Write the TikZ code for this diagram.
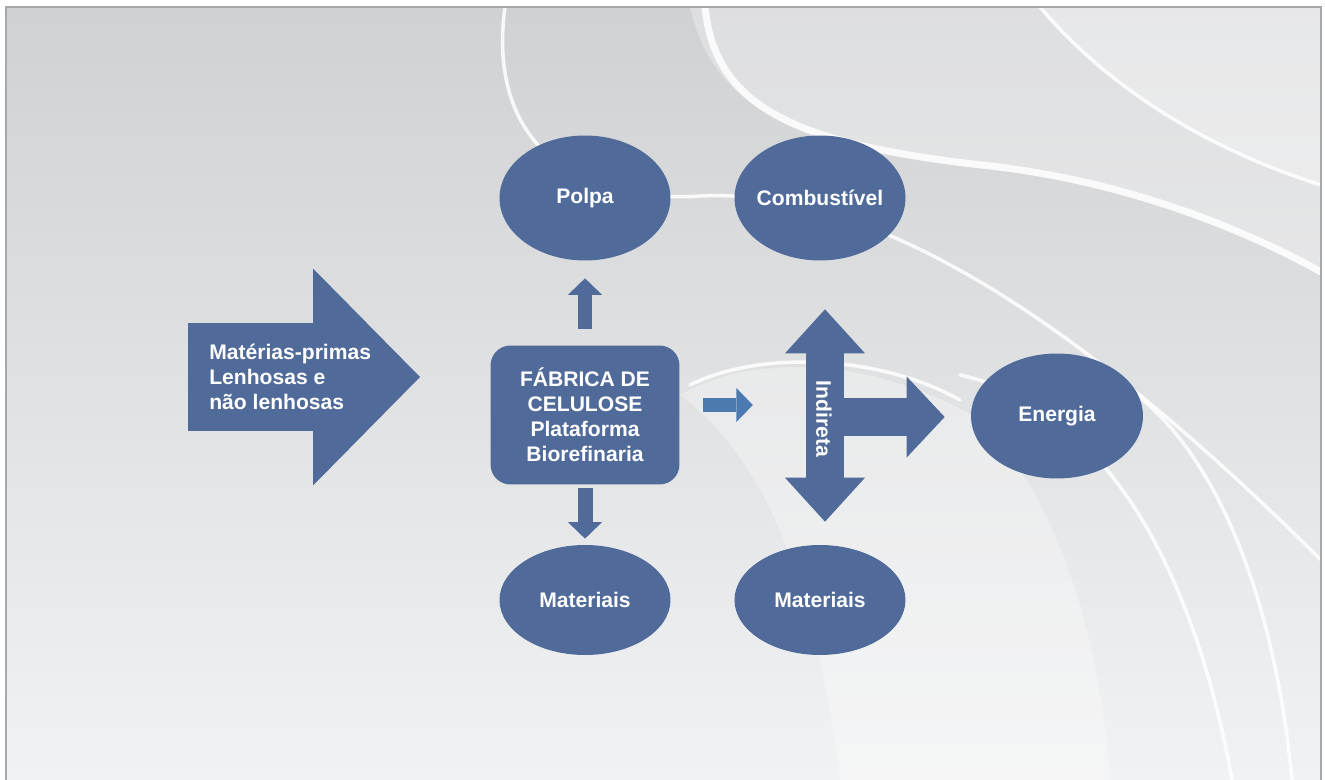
\documentclass[tikz,border=0pt]{standalone}
\usepackage{fontspec}
\setmainfont{Liberation Sans}
\usetikzlibrary{arrows.meta,calc,positioning,shapes.geometric}

\definecolor{boxblue}{HTML}{506A9A}
\definecolor{stepblue}{HTML}{4A7AAF}
\definecolor{bgdark}{HTML}{D0D1D3}
\definecolor{bglight}{HTML}{F1F2F3}
\definecolor{framegray}{HTML}{A8A8A8}

\begin{document}
\begin{tikzpicture}[
    x=0.02cm, y=-0.02cm,
    font=\fontsize{12}{14.2}\selectfont\bfseries,
    blob/.style={ellipse, fill=boxblue, text=white, minimum width=3.42cm,
        minimum height=2.5cm, inner sep=-4pt},
    hub/.style={rectangle, rounded corners=0.4cm, fill=boxblue, text=white,
        minimum width=3.78cm, minimum height=2.78cm, align=center, inner sep=2pt},
    lbl/.style={text=white, inner sep=0pt},
    wtip/.tip={Triangle[width=1.6cm, length=0.88cm, line width=0pt]},
    htip/.tip={Triangle[width=1.62cm, length=0.76cm, line width=0pt]},
    fat/.style={boxblue, line width=0.28cm,
        arrows={-Triangle[width=0.68cm, length=0.33cm, line width=0pt]}},
    wide/.style={boxblue, line width=0.76cm},
    band/.style={white, line width=2pt, line cap=round, opacity=0.85},
    glow/.style={white, opacity=0.3},
]

% ---------- frame and background ----------
\useasboundingbox (0,0) rectangle (1325,780);
\fill[white] (0,0) rectangle (1325,780);
\begin{scope}
  \clip (6,7) rectangle (1321,780);
  \shade[top color=bgdark, bottom color=bglight] (6,7) rectangle (1321,780);
  \fill[glow] (690,7) .. controls (715,120) and (820,150) .. (990,168)
      .. controls (1140,185) and (1260,240) .. (1321,275) -- (1321,7) -- cycle;
  \fill[glow] (1040,7) .. controls (1110,90) and (1210,150) .. (1321,185) -- (1321,7) -- cycle;
  \fill[glow] (680,395) .. controls (760,350) and (880,360) .. (980,420)
      .. controls (1060,500) and (1100,640) .. (1110,780) -- (840,780)
      .. controls (820,620) and (780,470) .. cycle;
  \draw[band] (505,7) .. controls (488,130) and (560,205) .. (700,196)
      .. controls (860,188) and (1060,300) .. (1321,560);
  \draw[band, line width=4pt] (705,7) .. controls (715,110) and (800,145) .. (990,166)
      .. controls (1140,183) and (1260,238) .. (1321,272);
  \draw[band] (1040,7) .. controls (1110,90) and (1210,150) .. (1321,185);
  \draw[band] (690,385) .. controls (760,350) and (880,355) .. (960,400);
  \draw[band] (960,375) .. controls (1120,410) and (1200,600) .. (1232,780);
  \draw[band] (1060,355) .. controls (1210,395) and (1275,600) .. (1292,780);
\end{scope}
\draw[framegray, line width=1.2pt] (6,781) -- (6,7) -- (1321,7) -- (1321,781);

% ---------- raw material ----------
\coordinate (rawtail) at (188,377);
\draw[boxblue, line width=2.16cm,
    arrows={-Triangle[width=4.34cm, length=2.14cm, line width=0pt]}]
    (rawtail) -- ++(232,0);
\node[lbl, anchor=west, align=left] (raw) at (209,377)
    {Matérias-primas\\Lenhosas e\\não lenhosas};

% ---------- mill and products ----------
\node[hub] (fab) at (585,415) {FÁBRICA DE\\CELULOSE\\Plataforma\\Biorefinaria};
\node[blob] (polpa) at (585,198) {Polpa};
\node[blob] (comb) at (820,198) {Combustível};
\node[blob, minimum height=2.2cm] (mat1) at (585,600) {Materiais};
\node[blob, minimum height=2.2cm] (mat2) at (820,600) {Materiais};
\node[blob, minimum width=3.44cm] (energ) at (1057,416) {Energia};

\draw[fat, shorten <=0.33cm, shorten >=0.35cm] (fab.north) -- (polpa.south);
\draw[fat, line width=0.3cm, shorten <=0.07cm, shorten >=0.12cm] (fab.south) -- (mat1.north);
\draw[fat, stepblue] ([xshift=0.46cm, yshift=0.2cm]fab.east) -- ++(50,0);

% ---------- indirect route ----------
\coordinate (ind) at (825,417);
\draw[wide, arrows={wtip-wtip}, shorten <=0.97cm, shorten >=0.46cm]
    (ind |- comb.south) -- (ind |- mat2.north);
\draw[wide, arrows={-htip}, shorten >=0.52cm] (ind) -- (ind -| energ.west);
\node[lbl, rotate=-90] (indlbl) at (824,419) {Indireta};

\end{tikzpicture}
\end{document}
